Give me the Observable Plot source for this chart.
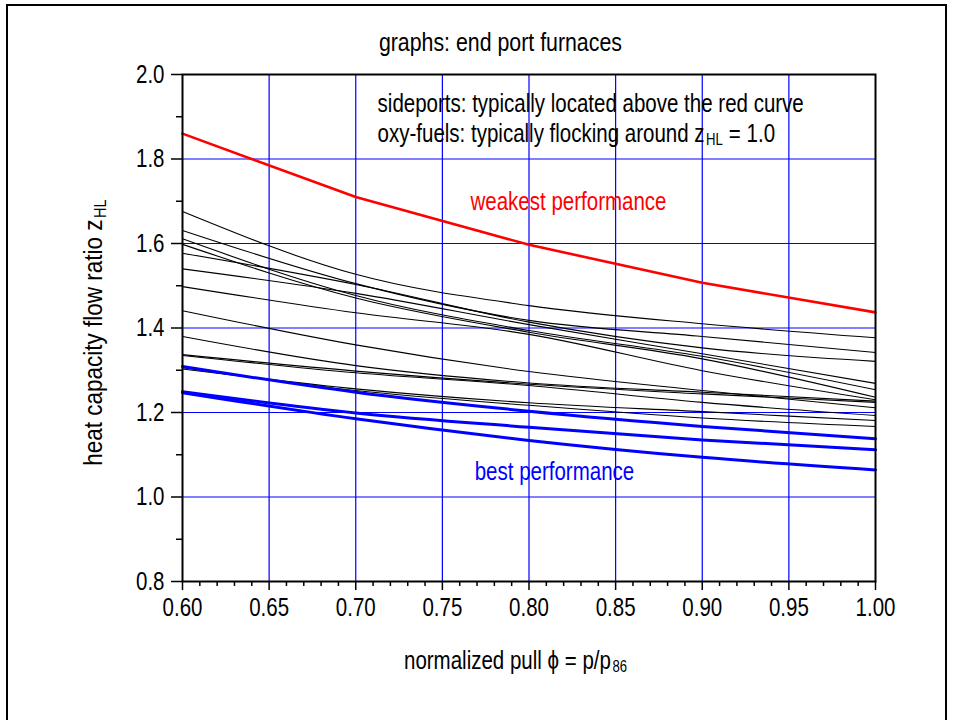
<!DOCTYPE html>
<html>
<head>
<meta charset="utf-8">
<script src="https://cdn.jsdelivr.net/npm/d3@7"></script>
<script src="https://cdn.jsdelivr.net/npm/@observablehq/plot@0.6"></script>
<style>
  html, body { margin: 0; padding: 0; background: #fff; }
  #wrap { position: relative; width: 955px; height: 720px; overflow: hidden; }
  #border { position: absolute; left: 6px; top: 4px; width: 941px; height: 740px; border: 2px solid #000; box-sizing: border-box; }
  #chart { position: absolute; left: 0; top: 0; }
</style>
</head>
<body>
<div id="wrap"><div id="border"></div><div id="chart"></div></div>
<script>
// ---- data ----
const phi = [0.6, 0.7, 0.8, 0.9, 1.0];

const redCurve = [1.860, 1.710, 1.597, 1.507, 1.437];

const blackCurves = [
  [1.676, 1.527, 1.453, 1.410, 1.377],
  [1.631, 1.505, 1.418, 1.380, 1.342],
  [1.577, 1.503, 1.414, 1.353, 1.321],
  [1.540, 1.482, 1.408, 1.339, 1.269],
  [1.611, 1.477, 1.394, 1.333, 1.254],
  [1.598, 1.471, 1.390, 1.327, 1.236],
  [1.498, 1.436, 1.385, 1.299, 1.230],
  [1.441, 1.360, 1.297, 1.252, 1.211],
  [1.380, 1.311, 1.270, 1.248, 1.227],
  [1.337, 1.298, 1.267, 1.244, 1.224],
  [1.335, 1.294, 1.264, 1.224, 1.193],
  [1.303, 1.256, 1.223, 1.202, 1.181],
  [1.306, 1.252, 1.217, 1.187, 1.167]
];

const blueCurves = [
  [1.309, 1.248, 1.203, 1.167, 1.138],
  [1.249, 1.199, 1.165, 1.135, 1.112],
  [1.247, 1.185, 1.134, 1.094, 1.064]
];

const xTicks = [0.60, 0.65, 0.70, 0.75, 0.80, 0.85, 0.90, 0.95, 1.00];
const xTickLabels = ["0.60", "0.65", "0.70", "0.75", "0.80", "0.85", "0.90", "0.95", "1.00"];
const yTicks = [0.8, 1.0, 1.2, 1.4, 1.6, 1.8, 2.0];
const yTickLabels = ["0.8", "1.0", "1.2", "1.4", "1.6", "1.8", "2.0"];
const yMinorTicks = [0.9, 1.1, 1.3, 1.5, 1.7, 1.9];
const xMinorTicks = d3.range(60, 101).map(d => d / 100).filter(d => Math.round(d * 100) % 5 !== 0);
const xGrid = [0.65, 0.70, 0.75, 0.80, 0.85, 0.90, 0.95];
const yGrid = [1.0, 1.2, 1.4, 1.6, 1.8];

const titleText = "graphs: end port furnaces";
const note1 = "sideports: typically located above the red curve";
const note2 = "oxy-fuels: typically flocking around z";
const redLabel = "weakest performance";
const blueLabel = "best performance";
const xLabel = "normalized pull \u03D5 = p/p";
const yLabel = "heat capacity flow ratio z";

// ---- rows ----
const toRows = (curves) => curves.flatMap((vals, i) => vals.map((v, j) => ({id: i, phi: phi[j], z: v})));
const blackRows = toRows(blackCurves);
const blueRows = toRows(blueCurves);
const redRows = toRows([redCurve]);

const FONT = '"Liberation Sans", Arial, sans-serif';
const BLUE = "#0000ff";

const svg = Plot.plot({
  width: 955,
  height: 720,
  marginLeft: 182,
  marginRight: 80,
  marginTop: 74,
  marginBottom: 139,
  style: {fontFamily: FONT, fontSize: "25px", background: "transparent", color: "#000", overflow: "visible"},
  x: {domain: [0.6, 1.0]},
  y: {domain: [0.8, 2.0]},
  marks: [
    Plot.gridX(xGrid, {stroke: BLUE, strokeOpacity: 1, strokeWidth: 1.2}),
    Plot.gridY(yGrid, {stroke: BLUE, strokeOpacity: 1, strokeWidth: 1.2}),
    Plot.line(blackRows, {x: "phi", y: "z", z: "id", stroke: "#000", strokeWidth: 1.1, curve: "monotone-x"}),
    Plot.line(blueRows, {x: "phi", y: "z", z: "id", stroke: BLUE, strokeWidth: 3, curve: "monotone-x"}),
    Plot.line(redRows, {x: "phi", y: "z", stroke: "#ff0000", strokeWidth: 2.6, curve: "linear"}),
    Plot.frame({stroke: "#000", strokeWidth: 2}),
    Plot.axisX(xMinorTicks, {tickSize: 5, strokeWidth: 1.5, tickFormat: () => "", label: null}),
    Plot.axisX(xTicks, {tickSize: 9, strokeWidth: 1.5, tickPadding: 8, fontSize: 25, tickFormat: d => xTickLabels[xTicks.indexOf(d)], label: null}),
    Plot.axisY(yMinorTicks, {tickSize: 6, strokeWidth: 1.5, tickFormat: () => "", label: null}),
    Plot.axisY(yTicks, {tickSize: 11, strokeWidth: 1.5, tickPadding: 7, fontSize: 25, tickFormat: d => yTickLabels[yTicks.indexOf(d)], label: null}),
    Plot.text([titleText], {x: 0.7835, y: 2.0757, text: d => d, fontSize: 26}),
    Plot.text([note1], {x: 0.7126, y: 1.929, text: d => d, textAnchor: "start", fontSize: 25}),
    Plot.text([note2], {x: 0.7126, y: 1.860, text: d => d, textAnchor: "start", fontSize: 25}),
    Plot.text([redLabel], {x: 0.8228, y: 1.699, text: d => d, fill: "#ff0000", fontSize: 25}),
    Plot.text([blueLabel], {x: 0.8147, y: 1.058, text: d => d, fill: BLUE, fontSize: 25}),
    Plot.text([xLabel], {x: 0.7922, y: 0.613, text: d => d, fontSize: 25}),
    Plot.text([yLabel], {x: 0.5492, y: 1.389, text: d => d, rotate: -90, fontSize: 25})
  ]
});

document.getElementById("chart").appendChild(svg);
const root = d3.select(svg);

// condense a text element (mimics a narrow face)
function condense(el, f) {
  const L = el.getComputedTextLength();
  if (L > 0) {
    el.setAttribute("textLength", (L * f).toFixed(1));
    el.setAttribute("lengthAdjust", "spacingAndGlyphs");
  }
  el.setAttribute("data-done", "1");
  return L * f;
}

// split a label into main text + subscript (+ trailing text) as sibling text elements
function withSub(mainText, sub, after, f) {
  const el = root.selectAll("text").filter(function () { return this.textContent === mainText; }).node();
  if (!el) return;
  const parent = el.parentNode;
  const anchor = getComputedStyle(el).textAnchor;
  const base = parseFloat(el.getAttribute("x") || 0);
  const mk = (txt, size) => {
    const t = el.cloneNode(false);
    t.textContent = txt;
    if (size) t.setAttribute("font-size", size);
    parent.appendChild(t);
    return t;
  };
  const gap = 1.5;
  const s = mk(sub, 16);
  const a = after ? mk(after.trim()) : null;
  const Lm = condense(el, f);
  const Ls = condense(s, f);
  const La = a ? condense(a, f) : 0;
  const sp = a ? 6 : 0;
  const W = Lm + Ls + La + gap + sp;
  const x0 = base + (anchor === "middle" ? -W / 2 : anchor === "end" ? -W : 0);
  el.setAttribute("text-anchor", "start");
  el.setAttribute("x", x0);
  s.setAttribute("text-anchor", "start");
  s.setAttribute("x", x0 + Lm + gap);
  s.setAttribute("dy", 6);
  if (a) {
    a.setAttribute("text-anchor", "start");
    a.setAttribute("x", x0 + Lm + Ls + gap + sp);
  }
}
withSub(note2, "HL", " = 1.0", 0.82);
withSub(xLabel, "86", null, 0.82);
withSub(yLabel, "HL", null, 0.9);

root.selectAll("text").each(function () {
  if (!this.getAttribute("data-done")) condense(this, 0.82);
});
</script>
</body>
</html>
